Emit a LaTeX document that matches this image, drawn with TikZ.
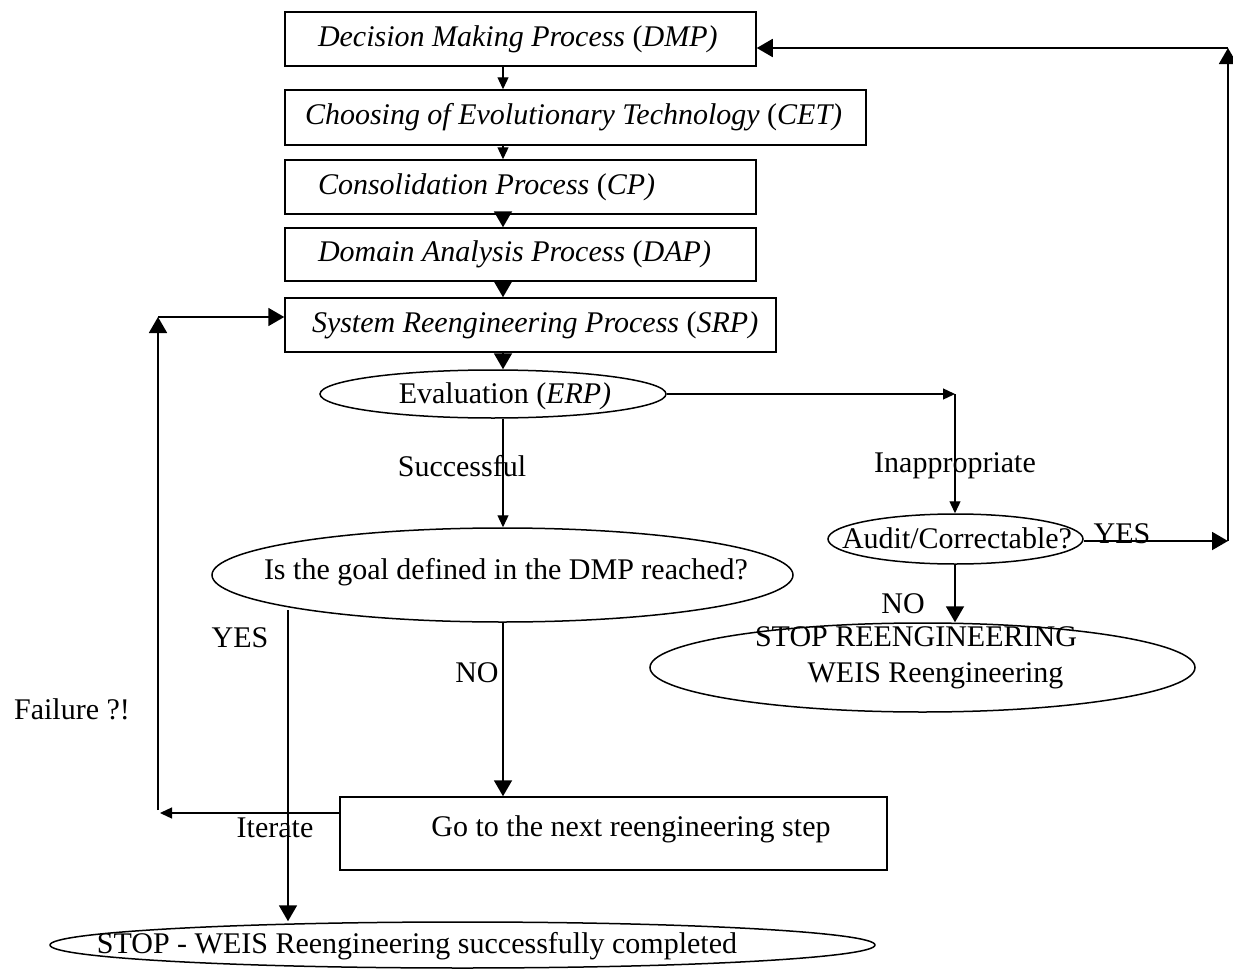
\documentclass[tikz,border=0pt]{standalone}
\usepackage{fontspec}
\setmainfont{Liberation Serif}
\usetikzlibrary{shapes.geometric,arrows.meta,calc}
\newcommand{\boxtxt}[3]{\makebox[#1][l]{\hspace*{#2}#3}}
\begin{document}
\begin{tikzpicture}[x=0.5pt,y=-0.5pt,
  every node/.style={font=\fontsize{15pt}{18pt}\selectfont},
  procbox/.style={draw,rectangle,line width=0.75pt,inner sep=0pt},
  ell/.style={draw,ellipse,line width=0.75pt,inner sep=0pt},
  lbl/.style={inner sep=0pt},
  big/.style={line width=0.95pt,-{Triangle[length=8pt,width=9pt]}},
  small/.style={line width=0.65pt,-{Triangle[length=6pt,width=5.5pt]}},
  plain/.style={line width=0.95pt}]
\useasboundingbox (0,0) rectangle (1233,969);
% process boxes
\node[procbox,minimum height=27pt] (dmp) at (520.5,39)
  {\boxtxt{235.5pt}{16.5pt}{\textit{Decision Making Process} (\textit{DMP)}}};
\node[procbox,minimum height=27.5pt] (cet) at (575.5,117.5)
  {\boxtxt{290.5pt}{10pt}{\textit{Choosing of Evolutionary Technology} (\textit{CET)}}};
\node[procbox,minimum height=27pt] (cp) at (520.5,187)
  {\boxtxt{235.5pt}{16.5pt}{\textit{Consolidation Process} (\textit{CP)}}};
\node[procbox,minimum height=26.5pt] (dap) at (520.5,254.5)
  {\boxtxt{235.5pt}{16.5pt}{\textit{Domain Analysis Process} (\textit{DAP)}}};
\node[procbox,minimum height=27pt] (srp) at (530.5,325)
  {\boxtxt{245.5pt}{13.5pt}{\textit{System Reengineering Process} (\textit{SRP)}}};
% ellipses
\node[ell,minimum width=173pt,minimum height=24pt] (eval) at (493,394) {};
\node[lbl] (evalT) at (505,396) {Evaluation (\textit{ERP)}};
\node[ell,minimum width=290.5pt,minimum height=47pt] (goal) at (502.5,575) {};
\node[lbl] (goalT) at (506,572) {Is the goal defined in the DMP reached?};
\node[ell,minimum width=127.5pt,minimum height=25pt] (audit) at (955.5,539) {};
\node[lbl] (auditT) at (957,538) {Audit/Correctable?};
\node[ell,minimum width=272.5pt,minimum height=44.5pt] (stopr) at (922.5,667.5) {};
\node[lbl,align=center] (stoprT) at (916,658) {STOP REENGINEERING\\\hspace*{19.5pt}WEIS Reengineering};
\node[procbox,minimum width=273.5pt,minimum height=36.5pt] (next) at (613.5,833.5) {};
\node[lbl] (nextT) at (631,829) {Go to the next reengineering step};
\node[ell,minimum width=412.5pt,minimum height=23pt] (final) at (462.5,945) {};
\node[lbl] (finalT) at (417,946) {STOP - WEIS Reengineering successfully completed};
% labels
\node[lbl] (succ) at (462,466) {Successful};
\node[lbl] (inap) at (955,466) {Inappropriate};
\node[lbl] (yesA) at (1122,534) {YES};
\node[lbl] (noA) at (903,604) {NO};
\node[lbl] (yesG) at (240,638) {YES};
\node[lbl] (noG) at (477,673) {NO};
\node[lbl] (iter) at (275,828) {Iterate};
\node[lbl] (fail) at (72,709) {Failure ?!};
% coordinates
\coordinate (cx) at (503,0);
\coordinate (rc) at (955,394);
\coordinate (yc) at (1228,541);
\coordinate (tc) at (1228,48);
\coordinate (yesstart) at (288,610);
\coordinate (itL) at (160,813);
\coordinate (lv) at (158,810);
\coordinate (lt) at (158,317);
% main chain
\draw[small] (dmp.south -| cx) -- (cet.north -| cx);
\draw[small] (cet.south -| cx) -- (cp.north -| cx);
\draw[big] (cp.south -| cx) -- (dap.north -| cx);
\draw[big] (dap.south -| cx) -- (srp.north -| cx);
\draw[big] (srp.south -| cx) -- (eval.north -| cx);
\draw[small] (eval.south -| cx) -- (goal.north -| cx);
% inappropriate branch
\draw[small] (eval.east) -- (rc);
\draw[small] (rc) -- (audit.north -| rc);
\draw[big] (audit.east |- yc) -- (yc);
\draw[big] (yc) -- (tc);
\draw[big] (tc) -- (dmp.east |- tc);
\draw[big] (audit.south -| rc) -- (stopr.north -| rc);
% goal branches
\draw[big] (goal.south -| cx) -- (next.north -| cx);
\draw[big] (yesstart) -- (final.north -| yesstart);
% iterate loop
\draw[small] (next.west |- itL) -- (itL);
\draw[big] (lv) -- (lt);
\draw[big] (lt) -- (srp.west |- lt);
\end{tikzpicture}
\end{document}
